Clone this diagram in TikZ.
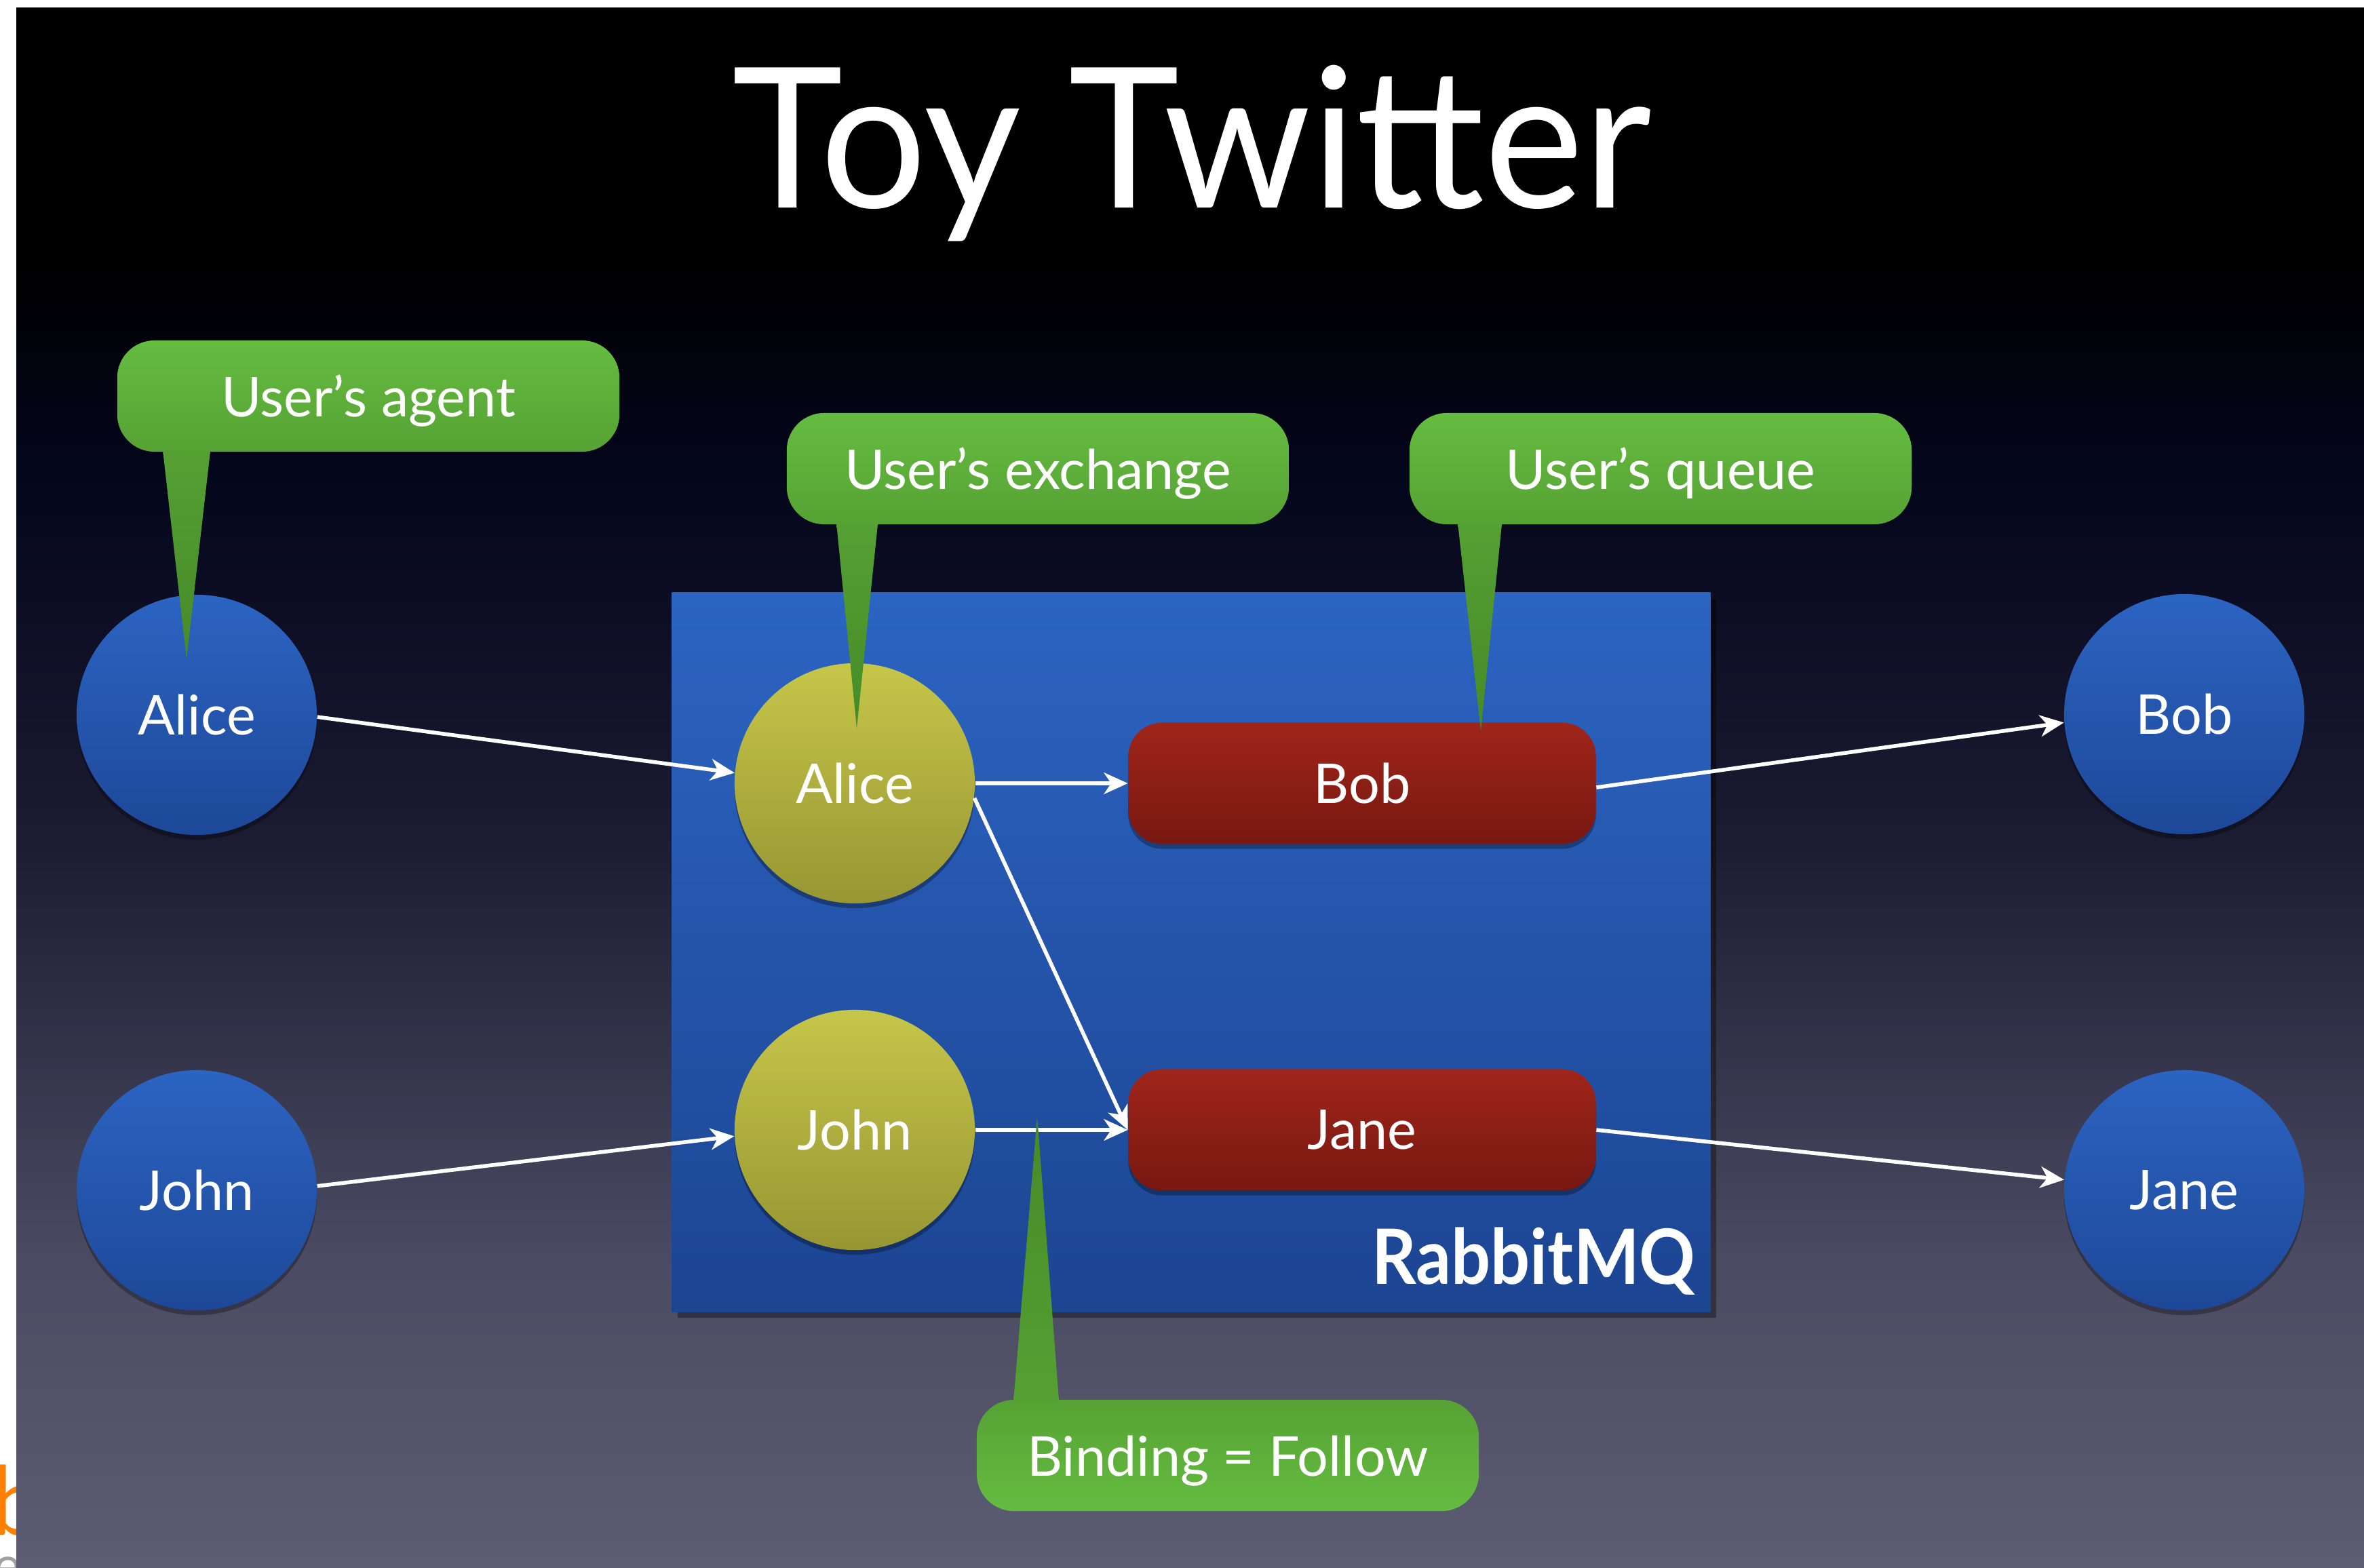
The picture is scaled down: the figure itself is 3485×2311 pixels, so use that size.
\documentclass[tikz,border=0pt]{standalone}
\usepackage{fontspec}
\usepackage{graphicx}
\setmainfont{Lato}
\usetikzlibrary{arrows.meta,shadows,calc}

\definecolor{bgA}{HTML}{5C5C72}
\definecolor{bgB}{HTML}{4A4A62}
\definecolor{bgC}{HTML}{1C1C33}
\definecolor{bgD}{HTML}{04061C}
\definecolor{blueTop}{HTML}{2C64C2}
\definecolor{blueBot}{HTML}{1D4898}
\definecolor{boxTop}{HTML}{2C64C2}
\definecolor{boxBot}{HTML}{1C4592}
\definecolor{exTop}{HTML}{C6C64A}
\definecolor{exBot}{HTML}{979633}
\definecolor{qTop}{HTML}{A0251A}
\definecolor{qBot}{HTML}{771811}
\definecolor{grTop}{HTML}{65BC40}
\definecolor{grBot}{HTML}{56A234}
\definecolor{ptTop}{HTML}{55A033}
\definecolor{ptBot}{HTML}{468A28}
\definecolor{logoOrange}{HTML}{FF7F00}
\definecolor{logoGrey}{HTML}{A0A0A0}

\pgfdeclareverticalshading{slidebg}{100bp}{color(0bp)=(bgA); color(25bp)=(bgA); color(35bp)=(bgB); color(48bp)=(bgC); color(60bp)=(bgD); color(67bp)=(black); color(100bp)=(black)}

\newcommand\lblfont{\fontsize{23}{23}\selectfont}

\begin{document}
\begin{tikzpicture}[x=0.01cm,y=-0.01cm,
  softshadow/.style={drop shadow={fill=black, opacity=0.3, shadow xshift=0pt, shadow yshift=-2pt}},
  person/.style={circle, minimum size=3.54cm, inner sep=0pt, top color=blueTop, bottom color=blueBot, text=white, font=\lblfont, softshadow},
  exch/.style={person, top color=exTop, bottom color=exBot},
  queue/.style={rectangle, rounded corners=0.5cm, minimum width=6.89cm, minimum height=1.79cm, inner sep=0pt, top color=qTop, bottom color=qBot, text=white, font=\lblfont, softshadow},
  flow/.style={draw=white, line width=1.6pt, -{Stealth[length=10pt,width=9pt,inset=3pt]}},
  callout/.style={rectangle, rounded corners=0.55cm, minimum width=7.4cm, minimum height=1.64cm, inner sep=0pt, top color=grTop, bottom color=grBot, text=white, font=\lblfont, text height=17.6pt, text depth=0pt},
  pointer/.style={top color=ptTop, bottom color=ptBot},
]
\fill[white] (0,0) rectangle (3485,2311);
\useasboundingbox (0,0) rectangle (3485,2311);
\node[anchor=base west, inner sep=0pt, text=logoOrange, font=\fontsize{40}{40}\selectfont] (logoB) at (-14,2263) {b};
\node[anchor=base west, inner sep=0pt, text=logoGrey, font=\fontsize{22}{22}\selectfont] (logoEr) at (-10,2335) {er};
\shade[shading=slidebg] (24,11) rectangle (3485,2311);

\node[anchor=base, inner sep=0pt, text=white, font=\fontsize{82}{82}\selectfont] (title) at (1757,306) {\scalebox{0.96}[1]{Toy Twitter}};

\node[rectangle, minimum width=15.30cm, minimum height=10.60cm, inner sep=0pt, top color=boxTop, bottom color=boxBot, drop shadow={fill=black, opacity=0.35, shadow xshift=2.5pt, shadow yshift=-2.5pt}] (rmq) at (1756,1404) {};
\node[anchor=base east, inner sep=0pt, text=white, font=\bfseries\fontsize{32}{32}\selectfont] (rmqlabel) at (2500,1893) {\scalebox{0.91}[1]{RabbitMQ}};

\node[person] (aliceA) at (290,1054) {Alice};
\node[person] (johnA) at (290,1755) {John};
\node[exch] (aliceX) at (1260,1155) {Alice};
\node[exch] (johnX) at (1260,1666) {John};
\node[queue] (bobQ) at (2008,1155) {Bob};
\node[queue] (janeQ) at (2008,1666) {Jane};
\node[person] (bobC) at (3220,1053) {Bob};
\node[person] (janeC) at (3220,1755) {Jane};

\draw[flow] (aliceA.-1) -- (aliceX.175);
\draw[flow] (johnA.2) -- (johnX.183);
\draw[flow] (aliceX.east) -- (bobQ.west);
\draw[flow] (aliceX.-7) -- (janeQ.west);
\draw[flow] (johnX.east) -- (janeQ.west);
\draw[flow] (bobQ.-1.5) -- (bobC.184);
\draw[flow] (janeQ.east) -- (janeC.175);

\node[callout] (cAgent) at (543,584) {User’s agent};
\node[callout] (cExch) at (1530,691) {User’s exchange};
\node[callout] (cQueue) at (2448,691) {User’s queue};
\node[callout, top color=grBot, bottom color=grTop] (cBind) at (1810,2146) {Binding = Follow};

\coordinate (tAgent) at (275,972);
\coordinate (tExch) at (1263,1074);
\coordinate (tQueue) at (2183,1078);
\coordinate (tBind) at (1529,1646);

\shade[pointer] ($(cAgent.south west)+(68,-2)$) -- ($(cAgent.south west)+(138,-2)$) -- (tAgent) -- cycle;
\shade[pointer] ($(cExch.south west)+(74,-2)$) -- ($(cExch.south west)+(135,-2)$) -- (tExch) -- cycle;
\shade[pointer] ($(cQueue.south west)+(72,-2)$) -- ($(cQueue.south west)+(137,-2)$) -- (tQueue) -- cycle;
\shade[top color=ptBot, bottom color=ptTop] ($(cBind.north west)+(55,2)$) -- ($(cBind.north west)+(122,2)$) -- (tBind) -- cycle;
\end{tikzpicture}
\end{document}
